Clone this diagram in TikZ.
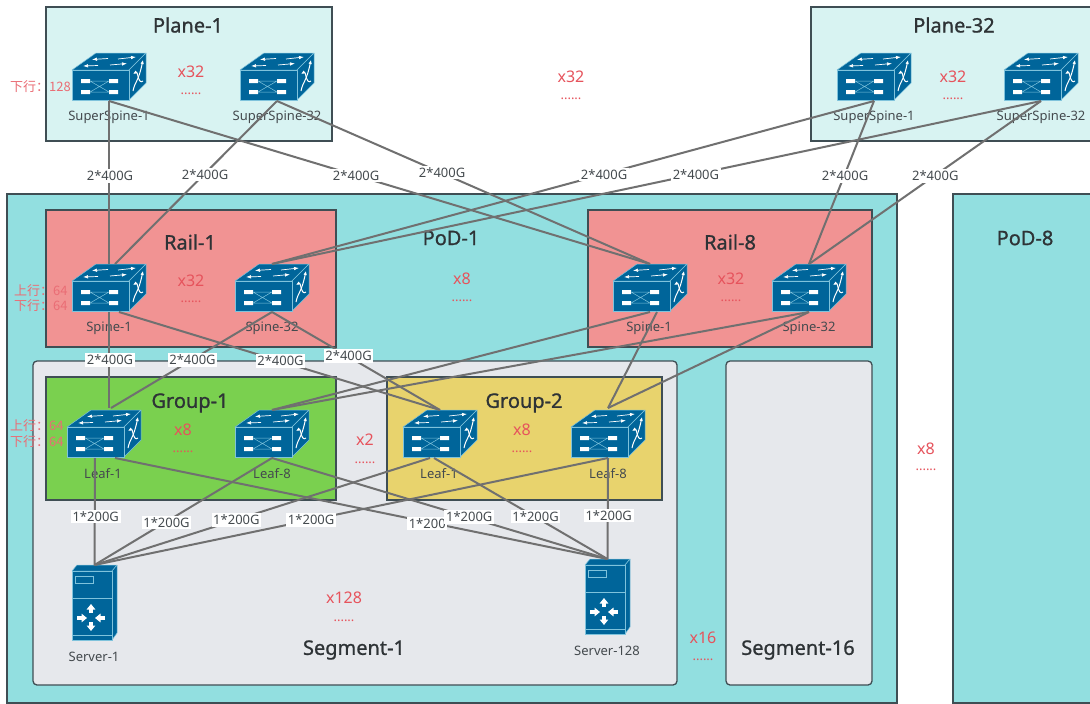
\documentclass[tikz,border=0pt]{standalone}
\usepackage{fontspec}
\setmainfont{Noto Sans}
\newfontfamily\cjkfont{Noto Sans CJK SC}
\newfontfamily\titlefont[FakeBold=1]{Noto Sans}
\usetikzlibrary{calc,arrows.meta}
\definecolor{swblue}{HTML}{00659A}
\definecolor{swedge}{HTML}{7FC3DC}
\definecolor{bordc}{HTML}{3F4E54}
\definecolor{linkc}{HTML}{707070}
\definecolor{redc}{HTML}{E6535C}
\definecolor{txtc}{HTML}{444A4E}
\definecolor{titlec}{HTML}{2E3336}
\tikzset{
  x=1pt,y=-1pt,
  panel/.style={draw=bordc,line width=1.3pt,inner sep=0,outer sep=0},
  seg/.style={panel,rounded corners=4pt},
  title/.style={text=titlec,font=\titlefont\fontsize{20}{24}\selectfont,inner sep=0},
  devlabel/.style={text=txtc,font=\fontsize{13}{15}\selectfont,inner sep=0},
  mult/.style={text=redc,font=\fontsize{16}{19}\selectfont,inner sep=0},
  ddots/.style={text=redc,font=\fontsize{13}{15}\selectfont,inner sep=0},
  side/.style={text=redc!85!white,font=\fontsize{13}{15}\cjkfont\selectfont,inner sep=0},
  swbox/.style={minimum width=74pt,minimum height=48pt,inner sep=0,outer sep=0},
  srvbox/.style={minimum width=45pt,minimum height=75pt,inner sep=0,outer sep=0},
  link/.style={draw=linkc,line width=2pt},
  bw/.style={fill=white,text=txtc,inner sep=1.6pt,xshift=1pt,font=\fontsize{13}{15}\selectfont},
  swicon/.pic={
    \filldraw[fill=swblue,draw=swedge,line width=.5pt,line join=round]
      (24,0)--(74,0)--(57,17)--(0,17)--cycle;
    \filldraw[fill=swblue,draw=swedge,line width=.5pt,line join=round]
      (57,17)--(74,0)--(74,30)--(57,47)--cycle;
    \filldraw[fill=swblue,draw=swedge,line width=.5pt,line join=round]
      (0,17) rectangle (57,47);
    \fill[white] (9,26) rectangle (18,30) (9,37) rectangle (18,41)
                 (37,26) rectangle (46,30) (37,37) rectangle (46,41);
    \draw[swedge,line width=.5pt] (18,28)--(37,39) (18,39)--(37,28) (18,28)--(37,28) (18,39)--(37,39);
    \begin{scope}[white,line width=.7pt,-{Latex[length=5pt,width=3.5pt]}]
      \draw (36,5.5)--(20,6.5);
      \draw (46,6)--(64,4);
      \draw (26,12.5)--(11,13);
      \draw (38,12)--(55,10.5);
    \end{scope}
    \begin{scope}[white,line width=1pt]
      \draw[-{Latex[length=4pt,width=3.5pt]}] (61,38)..controls (63,28) and (66,30)..(71,7);
      \draw[-{Latex[length=4pt,width=3.5pt]}] (71,28)..controls (66,32) and (66,18)..(61,21);
    \end{scope}
  },
  srvicon/.pic={
    \filldraw[fill=swblue,draw=swedge,line width=.5pt,line join=round]
      (5,0)--(45,0)--(40,6)--(0,6)--cycle;
    \filldraw[fill=swblue,draw=swedge,line width=.5pt,line join=round]
      (40,6)--(45,0)--(45,68)--(40,75)--cycle;
    \filldraw[fill=swblue,draw=swedge,line width=.5pt] (0,6) rectangle (40,75);
    \draw[swedge,line width=.7pt] (0,33)--(40,33) (0,70)--(40,70);
    \draw[swedge,line width=.7pt] (3,11) rectangle (21,18);
    \draw[white,line width=3.2pt,-{Triangle[length=5.5pt,width=8.5pt]}] (19,48)--(19,39);
    \draw[white,line width=3.2pt,-{Triangle[length=5.5pt,width=8.5pt]}] (19,57)--(19,66);
    \draw[white,line width=3.2pt,-{Triangle[length=5.5pt,width=8.5pt]}] (5,53)--(15,53);
    \draw[white,line width=3.2pt,-{Triangle[length=5.5pt,width=8.5pt]}] (33,53)--(23,53);
  }
}
\newcommand{\swdev}[5]{% name, cx, top, label, label x
  \node[swbox] (#1) at (#2,#3+24) {};
  \pic at (#1.north west) {swicon};
  \node[devlabel] (#1lab) at (#5,#3+64) {#4};
}
\begin{document}
\begin{tikzpicture}
\useasboundingbox (0,0) rectangle (1090,704);
\fill[white] (0,0) rectangle (1090,704);

% containers
\node[panel,fill={rgb,255:red,216;green,243;blue,242},minimum width=286pt,minimum height=134pt] (plane1) at (189,74) {};
\node[panel,fill={rgb,255:red,216;green,243;blue,242},minimum width=290pt,minimum height=134pt] (plane32) at (956,74) {};
\node[panel,fill={rgb,255:red,146;green,223;blue,224},minimum width=890pt,minimum height=509pt] (pod1) at (452,448.5) {};
\node[panel,fill={rgb,255:red,146;green,223;blue,224},minimum width=150pt,minimum height=509pt] (pod8) at (1028,448.5) {};
\node[panel,fill={rgb,255:red,241;green,147;blue,147},minimum width=290pt,minimum height=137pt] (rail1) at (191,278.5) {};
\node[panel,fill={rgb,255:red,241;green,147;blue,147},minimum width=284pt,minimum height=137pt] (rail8) at (730,278.5) {};
\node[seg,fill={rgb,255:red,230;green,232;blue,236},minimum width=644pt,minimum height=324pt] (seg1) at (355,523) {};
\node[seg,fill={rgb,255:red,230;green,232;blue,236},minimum width=146pt,minimum height=324pt] (seg16) at (799,523) {};
\node[panel,fill={rgb,255:red,122;green,208;blue,79},minimum width=290pt,minimum height=123pt] (group1) at (191,438.5) {};
\node[panel,fill={rgb,255:red,232;green,211;blue,109},minimum width=275pt,minimum height=123pt] (group2) at (524.5,438.5) {};

% titles
\node[title] (tp1) at (188,25) {Plane-1};
\node[title] (tp32) at (954,25) {Plane-32};
\node[title] (tr1) at (190,242) {Rail-1};
\node[title] (tr8) at (730,242) {Rail-8};
\node[title] (tpod1) at (451,238) {PoD-1};
\node[title] (tpod8) at (1025,238) {PoD-8};
\node[title] (tg1) at (190,403) {Group-1};
\node[title] (tg2) at (524,403) {Group-2};
\node[title] (ts1) at (354,650) {Segment-1};
\node[title] (ts16) at (798,650) {Segment-16};

% multipliers
\node[mult] (m1) at (191,72) {x32};      \node[ddots] (d1) at (191,94) {......};
\node[mult] (m2) at (571,77) {x32};      \node[ddots] (d2) at (571,99) {......};
\node[mult] (m3) at (953,77) {x32};      \node[ddots] (d3) at (953,99) {......};
\node[mult] (m4) at (191,281) {x32};     \node[ddots] (d4) at (191,302) {......};
\node[mult] (m5) at (462,279) {x8};      \node[ddots] (d5) at (462,301) {......};
\node[mult] (m6) at (731,279) {x32};     \node[ddots] (d6) at (731,301) {......};
\node[mult] (m7) at (183,430) {x8};      \node[ddots] (d7) at (183,452) {......};
\node[mult] (m8) at (365,440) {x2};      \node[ddots] (d8) at (365,463) {......};
\node[mult] (m9) at (522,430) {x8};      \node[ddots] (d9) at (522,452) {......};
\node[mult] (m10) at (344,598) {x128};   \node[ddots] (d10) at (344,621) {......};
\node[mult] (m11) at (703,638) {x16};    \node[ddots] (d11) at (703,660) {......};
\node[mult] (m12) at (926,449) {x8};     \node[ddots] (d12) at (926,470) {......};

% side notes
\node[side,anchor=west] (n1) at (10,87) {下行：128};
\node[side,anchor=west] (n2) at (14,291) {上行：64};
\node[side,anchor=west] (n3) at (14,306) {下行：64};
\node[side,anchor=west] (n4) at (10,426) {上行：64};
\node[side,anchor=west] (n5) at (10,442) {下行：64};

% devices
\swdev{ssa}{109}{53}{SuperSpine-1}{109}
\swdev{ssb}{277}{53}{SuperSpine-32}{277}
\swdev{ssc}{874}{53}{SuperSpine-1}{874}
\swdev{ssd}{1041}{53}{SuperSpine-32}{1041}
\swdev{spa}{109}{264}{Spine-1}{109}
\swdev{spb}{272}{264}{Spine-32}{272}
\swdev{spc}{650}{264}{Spine-1}{649}
\swdev{spd}{809}{264}{Spine-32}{809}
\swdev{lfa}{104}{410}{Leaf-1}{103}
\swdev{lfb}{272}{410}{Leaf-8}{272}
\swdev{lfc}{440}{410}{Leaf-1}{439}
\swdev{lfd}{608}{410}{Leaf-8}{608}
\node[srvbox] (srva) at (94.5,602.5) {};
\pic at (srva.north west) {srvicon};
\node[devlabel] (srvalab) at (94,657) {Server-1};
\node[srvbox] (srvb) at (607.5,596.5) {};
\pic at (srvb.north west) {srvicon};
\node[devlabel] (srvblab) at (607,651) {Server-128};

% upper links
\draw[link] (ssa.south) -- node[bw,pos=.46] (e1) {2*400G} (spa.north);
\draw[link] (ssa.south) -- node[bw,pos=.455] (e2) {2*400G} (spc.north);
\draw[link] (ssb.south) -- node[bw,pos=.45] (e3) {2*400G} ($(spa.north)+(6,0)$);
\draw[link] (ssb.south) -- node[bw,pos=.44] (e4) {2*400G} (spc.north);
\draw[link] (ssc.south) -- node[bw,pos=.45] (e5) {2*400G} (spb.north);
\draw[link] (ssc.south) -- node[bw,pos=.46] (e6) {2*400G} (spd.north);
\draw[link] (ssd.south) -- node[bw,pos=.45] (e7) {2*400G} (spb.north);
\draw[link] (ssd.south) -- node[bw,pos=.46] (e8) {2*400G} (spd.north);

% middle links
\draw[link] (spc.south) -- (lfb.north);
\draw[link] ($(spc.south)+(7,0)$) -- ($(lfd.north)+(0,-2)$);
\draw[link] (spd.south) -- (lfb.north);
\draw[link] (spd.south) -- ($(lfd.north)+(0,-2)$);
\draw[link] (spa.south) -- node[bw,pos=.5] (e9) {2*400G} ($(lfa.north)+(5,-2)$);
\draw[link] (spb.south) -- node[bw,pos=.5] (e10) {2*400G} ($(lfa.north)+(7,-2)$);
\draw[link] ($(spa.south)+(10,0)$) -- node[bw,pos=.5] (e11) {2*400G} (lfc.north);
\draw[link] (spb.south) -- node[bw,pos=.45] (e12) {2*400G} (lfc.north);

% lower links
\draw[link] ($(lfa.south)+(-9,0)$) -- node[bw,pos=.55] (e13) {1*200G} (srva.north);
\draw[link] (lfb.south) -- node[bw,pos=.60] (e14) {1*200G} (srva.north);
\draw[link] ($(lfc.south)+(-10,0)$) -- node[bw,pos=.58] (e15) {1*200G} (srva.north);
\draw[link] (lfd.south) -- node[bw,pos=.58] (e16) {1*200G} (srva.north);
\draw[link] ($(lfa.south)+(11,0)$) -- node[bw,pos=.632,yshift=-1.5pt] (e17) {1*200} (srvb.north);
\draw[link] (lfb.south) -- node[bw,pos=.585] (e18) {1*200G} (srvb.north);
\draw[link] ($(lfc.south)+(-6,0)$) -- node[bw,pos=.58] (e19) {1*200G} (srvb.north);
\draw[link] (lfd.south) -- node[bw,pos=.57] (e20) {1*200G} (srvb.north);
\end{tikzpicture}
\end{document}
